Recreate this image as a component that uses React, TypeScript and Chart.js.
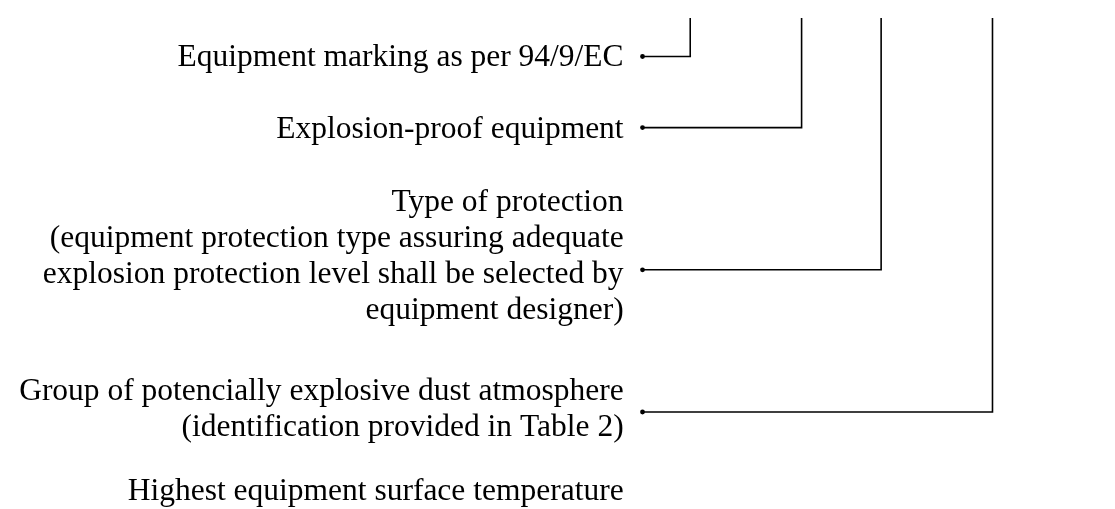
import React, { useEffect, useRef } from "react";
import { Chart, registerables } from "chart.js";

Chart.register(...registerables);

// Text blocks (each block = lines), right aligned next to their connector
const labelBlocks: string[][] = [
  ["Equipment marking as per 94/9/EC"],
  ["Explosion-proof equipment"],
  [
    "Type of protection",
    "(equipment protection type assuring adequate",
    "explosion protection level shall be selected by",
    "equipment designer)",
  ],
  ["Group of potencially explosive dust atmosphere", "(identification provided in Table 2)"],
  ["Highest equipment surface temperature"],
];
const labelBaselines: number[] = [63.5, 136.5, 210, 401.5, 503];
const lineSpacing = 36.7;
const textRightX = 624;

// Connectors: horizontal level of each connector and column of its vertical riser
const connectorRows: number[] = [54, 126, 270, 414];
const connectorColumns: number[] = [691, 803, 883, 995];
const connectorStartX = 643;
const connectorTopY = 15;

const textPlugin = {
  id: "diagramText",
  afterDatasetsDraw(chart: any) {
    const { ctx, scales } = chart;
    const xs = scales.x;
    const ys = scales.y;
    ctx.save();
    ctx.fillStyle = "#000";
    ctx.font = '31.5px "Liberation Serif", "Times New Roman", serif';
    ctx.textAlign = "right";
    ctx.textBaseline = "alphabetic";
    labelBlocks.forEach((lines, i) => {
      lines.forEach((line, j) => {
        ctx.fillText(
          line,
          xs.getPixelForValue(textRightX),
          ys.getPixelForValue(labelBaselines[i] + j * lineSpacing)
        );
      });
    });
    ctx.restore();
  },
};

export default function App() {
  const ref = useRef<HTMLCanvasElement | null>(null);
  useEffect(() => {
    if (!ref.current) return;
    const datasets = connectorRows.map((row, i) => ({
      data: [
        { x: connectorStartX, y: row },
        { x: connectorColumns[i], y: row },
        { x: connectorColumns[i], y: connectorTopY },
      ],
      showLine: true,
      borderColor: "#000",
      backgroundColor: "#000",
      borderWidth: 1.6,
      pointRadius: [1.6, 0, 0],
      pointHoverRadius: 0,
      tension: 0,
      fill: false,
    }));
    const chart = new Chart(ref.current, {
      type: "scatter",
      data: { datasets },
      options: {
        animation: false,
        responsive: false,
        devicePixelRatio: 1,
        layout: { padding: 0 },
        plugins: { legend: { display: false }, tooltip: { enabled: false } },
        events: [],
        scales: {
          x: { type: "linear", min: 0, max: 1115, display: false },
          y: { type: "linear", min: 0, max: 509, reverse: true, display: false },
        },
      },
      plugins: [textPlugin],
    });
    return () => chart.destroy();
  }, []);
  return (
    <div style={{ position: "fixed", left: 0, top: 0, width: 1115, height: 509, background: "#fff" }}>
      <canvas ref={ref} width={1115} height={509} style={{ width: 1115, height: 509 }} />
    </div>
  );
}
